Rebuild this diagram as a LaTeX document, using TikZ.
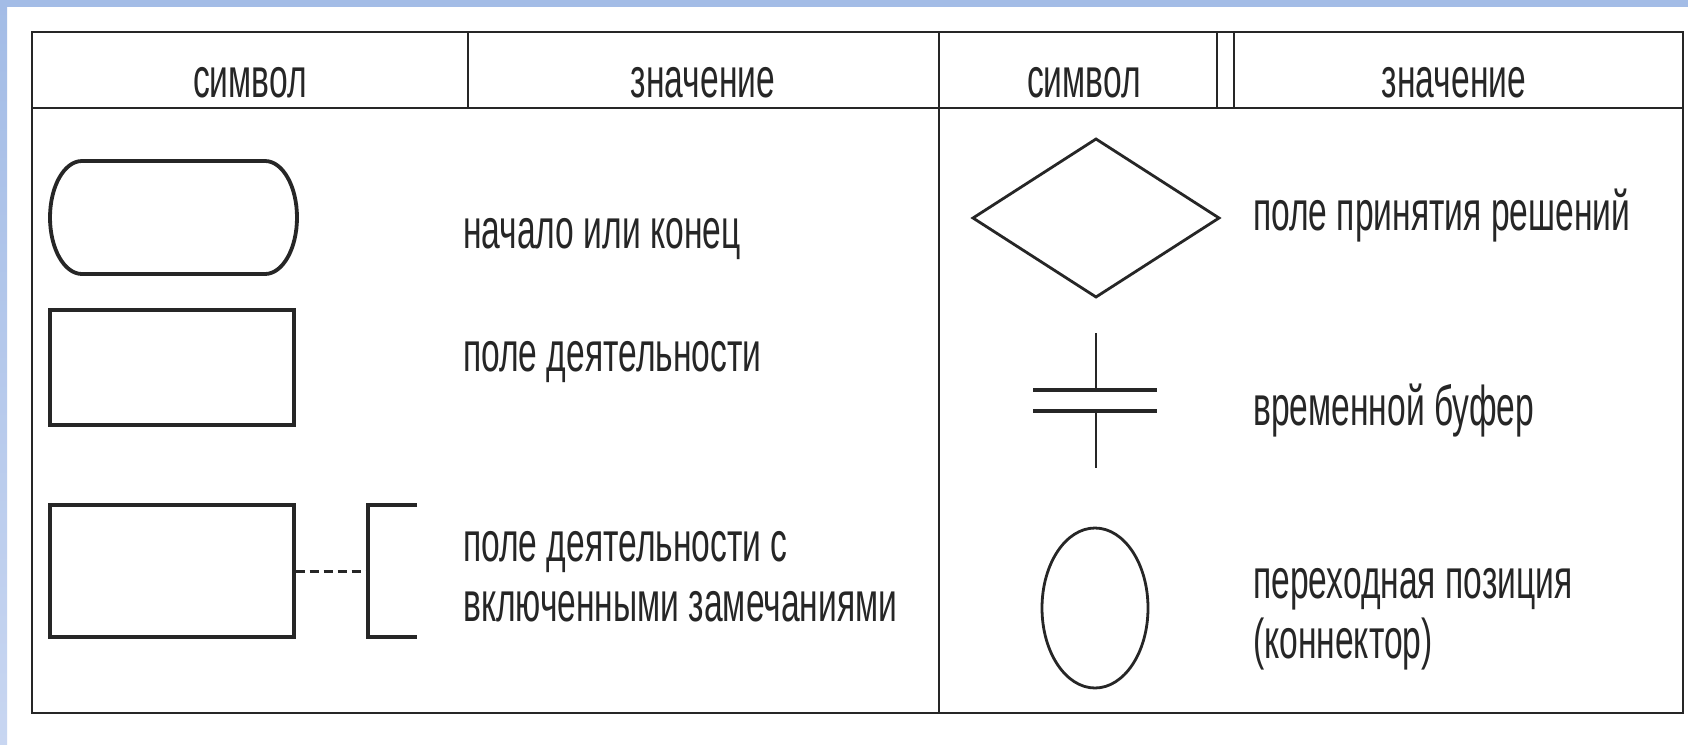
\documentclass[tikz,border=0pt]{standalone}
\usepackage{fontspec}
\usetikzlibrary{shapes.geometric}
\setmainfont{Liberation Sans}[FakeStretch=0.6]
\definecolor{bandblue}{HTML}{A3BCE6}
\definecolor{bandlight}{HTML}{C8D6F1}
\definecolor{ink}{HTML}{262626}
\begin{document}
\begin{tikzpicture}[x=1pt,y=-1pt,
  frame/.style={draw=ink, line width=2.6pt},
  sym/.style={draw=ink, line width=3pt},
  lbl/.style={anchor=base west, inner sep=0pt, text=ink, font=\fontsize{56}{61}\selectfont},
  hdr/.style={anchor=base, inner sep=0pt, text=ink, font=\fontsize{56}{61}\selectfont}]
\useasboundingbox (0,0) rectangle (1688,744);
\fill[white] (0,0) rectangle (1688,744);
\fill[bandblue] (0,0) rectangle (1688,7);
\shade[top color=bandblue, bottom color=bandlight] (0,0) rectangle (7,744);
% table
\draw[frame] (32,32) rectangle (1683,713);
\draw[frame] (32,108) -- (1683,108);
\draw[frame] (468,32) -- (468,108);
\draw[frame] (939,32) -- (939,713);
\draw[frame, line width=2pt] (1217,32) -- (1217,108);
\draw[frame, line width=2pt] (1234,32) -- (1234,108);
% headers
\node[hdr] (h1) at (250,97) {символ};
\node[hdr] (h2) at (703,97) {значение};
\node[hdr] (h3) at (1084,97) {символ};
\node[hdr] (h4) at (1454,97) {значение};
% terminator
\draw[sym, line width=3.8pt] (82,161) -- (265,161)
  arc[start angle=-90, end angle=90, x radius=32, y radius=56.5]
  -- (82,274)
  arc[start angle=90, end angle=270, x radius=32, y radius=56.5] -- cycle;
% activity boxes
\node[sym, line width=3.2pt, minimum width=244pt, minimum height=115pt, inner sep=0pt] (act) at (172,367.5) {};
\node[sym, line width=3.2pt, minimum width=244pt, minimum height=132pt, inner sep=0pt] (actn) at (172,571) {};
\coordinate (br) at (368,571);
\draw[sym, line width=3pt, dash pattern=on 9pt off 5pt] (actn.east) -- (br);
\draw[sym, line width=3.2pt] (417,505) -- (368,505) -- (368,637) -- (417,637);
% left labels
\node[lbl] (t1) at (463,248) {начало или конец};
\node[lbl] (t2) at (463,371) {поле деятельности};
\node[lbl] (t3) at (463,561) {поле деятельности с};
\node[lbl] (t4) at (463,621) {включенными замечаниями};
% decision
\draw[sym, line width=2.8pt] (973,218) -- (1096,139) -- (1219,218) -- (1096,297) -- cycle;
% buffer
\draw[sym, line width=2.6pt] (1096,333) -- (1096,390);
\draw[sym, line width=2.6pt] (1096,410) -- (1096,468);
\draw[sym, line width=3.4pt] (1033,390) -- (1157,390);
\draw[sym, line width=4pt] (1033,411) -- (1157,411);
% connector
\node[sym, line width=2.8pt, ellipse, minimum width=106pt, minimum height=160pt, inner sep=0pt] (conn) at (1095,608) {};
% right labels
\node[lbl] (r1) at (1253,230) {поле принятия решений};
\node[lbl] (r2) at (1253,425) {временной буфер};
\node[lbl] (r3) at (1253,598) {переходная позиция};
\node[lbl] (r4) at (1253,658) {(коннектор)};
\end{tikzpicture}
\end{document}
